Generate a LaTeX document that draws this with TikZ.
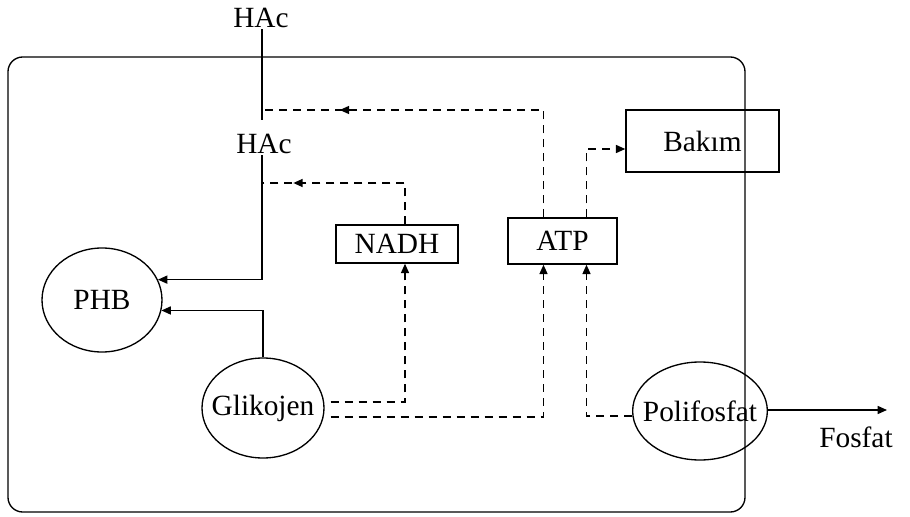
\documentclass[tikz,border=0pt]{standalone}
\usepackage{fontspec}
\setmainfont{Liberation Serif}
\usetikzlibrary{shapes.geometric,arrows.meta,calc,decorations.markings}
\begin{document}
\begin{tikzpicture}[x=0.75pt,y=-0.75pt,
  lbl/.style={font=\fontsize{22}{26}\selectfont, inner sep=1pt},
  oval/.style={ellipse, draw, line width=1pt, inner xsep=-8pt, inner ysep=0pt, font=\fontsize{22}{26}\selectfont},
  boxn/.style={rectangle, draw, line width=1.1pt, inner sep=0pt, font=\fontsize{22}{26}\selectfont},
  ln/.style={line width=1.1pt},
  dsh/.style={line width=1.1pt, dash pattern=on 6pt off 4.5pt},
  tip/.style={-{Triangle[length=7pt,width=6pt]}},
  midarrow/.style={postaction={decorate},decoration={markings,mark=at position #1 with {\arrow{Triangle[length=7pt,width=6pt]}}}}
]
\useasboundingbox (0,0) rectangle (910,517);
\fill[white] (0,0) rectangle (910,517);
% cell
\draw[line width=1pt, rounded corners=11pt] (8,57) rectangle (745,512);
% nodes
\node[lbl] (hac1) at (261,18) {HAc};
\node[lbl] (hac2) at (264,144) {HAc};
\node[oval, minimum width=90pt, minimum height=78pt] (phb) at (102,300) {PHB};
\node[oval, minimum width=91.5pt, minimum height=75pt] (glik) at (263,408) {Glikojen};
\node[oval, minimum width=101pt, minimum height=73.5pt] (poli) at (700,411) {Polifosfat};
\node[boxn, minimum width=91.5pt, minimum height=28.5pt] (nadh) at (397,244) {NADH};
\node[boxn, minimum width=81.75pt, minimum height=34.5pt] (atp) at (562.5,241) {ATP};
\node[boxn, minimum width=114.75pt, minimum height=46.5pt] (bakim) at (702.5,141) {Bakım};
\node[lbl] (fosfat) at (856,437) {Fosfat};
\coordinate (j1) at (262,120);
\coordinate (t1) at (262,110);
\coordinate (t2) at (262,183);
\coordinate (fos) at (887,410);
% solid connectors
\draw[ln] (hac1.south -| j1) -- (j1);
\draw[ln,tip] (hac2.south -| j1) |- (phb.20);
\draw[ln,tip] (glik.north) |- (phb.-10);
\draw[ln,tip] (poli.east |- fos) -- (fos);
% dashed connectors
\draw[dsh,midarrow=0.8] ($(atp.north)+(-19,0)$) |- (t1);
\draw[dsh,midarrow=0.83] ($(nadh.north)+(8,0)$) |- (t2);
\draw[dsh,tip] ($(atp.north)+(24,0)$) |- ($(bakim.west)+(0,8)$);
\draw[dsh,tip] ($(glik.east)+(6,-6)$) -| ($(nadh.south)+(8,0)$);
\draw[dsh,tip] ($(glik.east)+(6,9)$) -| ($(atp.south)+(-19,0)$);
\draw[dsh,tip] ($(poli.west)+(0,5)$) -| ($(atp.south)+(24,0)$);
\end{tikzpicture}
\end{document}
